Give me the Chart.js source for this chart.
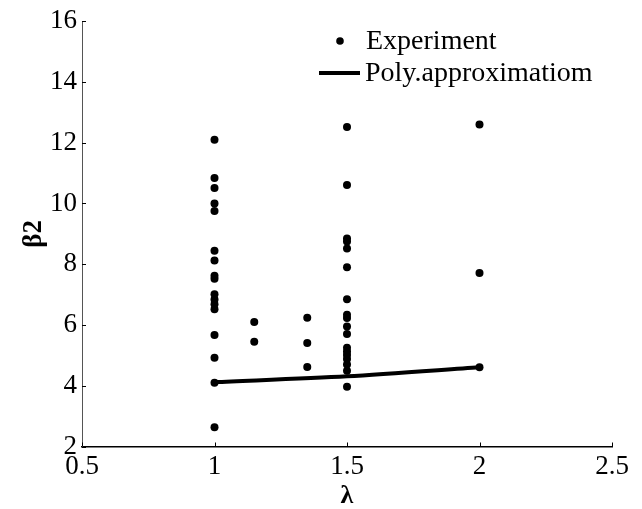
<!DOCTYPE html>
<html>
<head>
<meta charset="utf-8">
<script src="https://cdn.jsdelivr.net/npm/chart.js@4.4.0/dist/chart.umd.min.js"></script>
<style>
  html, body { margin: 0; padding: 0; background: #fff; }
  #wrap { width: 642px; height: 509px; }
</style>
</head>
<body>
<div id="wrap"><canvas id="chart" width="642" height="509"></canvas></div>
<script>
// experiment points (lambda, beta2)
const expLambda = [
  1, 1, 1, 1, 1, 1, 1, 1, 1, 1, 1, 1, 1, 1, 1, 1, 1,
  1.15, 1.15,
  1.35, 1.35, 1.35,
  1.5, 1.5, 1.5, 1.5, 1.5, 1.5, 1.5, 1.5, 1.5, 1.5, 1.5, 1.5, 1.5, 1.5, 1.5, 1.5, 1.5, 1.5,
  2, 2, 2
];
const expBeta = [
  12.1, 10.84, 10.51, 10.0, 9.75, 8.44, 8.12, 7.62, 7.52, 7.01, 6.84, 6.68, 6.52, 5.67, 4.92, 4.1, 2.63,
  6.1, 5.45,
  6.24, 5.41, 4.62,
  12.52, 10.61, 8.85, 8.75, 8.52, 7.9, 6.85, 6.34, 6.23, 5.95, 5.7, 5.25, 5.13, 5.01, 4.88, 4.7, 4.49, 3.97,
  12.6, 7.71, 4.61
];

// polynomial approximation
const polyLambda = [1, 1.5, 2];
const polyBeta = [4.12, 4.31, 4.61];

const xTicks = [0.5, 1, 1.5, 2, 2.5];
const xTickLabels = ["0.5", "1", "1.5", "2", "2.5"];
const yTicks = [2, 4, 6, 8, 10, 12, 14, 16];

const serif = "'Liberation Serif', 'Times New Roman', serif";

// inward tick marks like the original plot
const innerTicks = {
  id: "innerTicks",
  afterDraw(chart) {
    const { ctx, scales } = chart;
    const x = scales.x, y = scales.y;
    ctx.save();
    ctx.strokeStyle = "#000";
    ctx.lineWidth = 1;
    ctx.beginPath();
    xTicks.forEach((v) => {
      const px = Math.round(x.getPixelForValue(v)) + 0.5;
      ctx.moveTo(px, y.bottom);
      ctx.lineTo(px, y.bottom - 4);
    });
    yTicks.forEach((v) => {
      const py = Math.round(y.getPixelForValue(v)) + 0.5;
      ctx.moveTo(x.left, py);
      ctx.lineTo(x.left + 4, py);
    });
    ctx.stroke();
    ctx.restore();
  },
};

// legend drawn inside the plot, top right
const insideLegend = {
  id: "insideLegend",
  afterDraw(chart) {
    const ctx = chart.ctx;
    const ds = chart.data.datasets;
    ctx.save();
    ctx.fillStyle = "#000";
    ctx.strokeStyle = "#000";
    ctx.font = "28px " + serif;
    ctx.textBaseline = "middle";
    ctx.textAlign = "left";

    ctx.beginPath();
    ctx.arc(340, 41, 3.8, 0, Math.PI * 2);
    ctx.fill();
    ctx.fillText(ds[0].label, 366, 42);

    ctx.lineWidth = 4;
    ctx.beginPath();
    ctx.moveTo(319, 73);
    ctx.lineTo(360, 73);
    ctx.stroke();
    ctx.fillText(ds[1].label, 365, 74);
    ctx.restore();
  },
};

new Chart(document.getElementById("chart"), {
  type: "scatter",
  data: {
    datasets: [
      {
        label: "Experiment",
        data: expLambda.map((v, i) => ({ x: v, y: expBeta[i] })),
        pointRadius: 4,
        pointBackgroundColor: "#000",
        pointBorderWidth: 0,
        showLine: false,
      },
      {
        label: "Poly.approximatiom",
        data: polyLambda.map((v, i) => ({ x: v, y: polyBeta[i] })),
        showLine: true,
        borderColor: "#000",
        borderWidth: 4,
        pointRadius: 0,
        tension: 0.3,
      },
    ],
  },
  options: {
    responsive: false,
    animation: false,
    layout: { padding: { top: 19, right: 30, left: 0, bottom: 0 } },
    plugins: { legend: { display: false }, tooltip: { enabled: false } },
    scales: {
      x: {
        type: "linear",
        min: 0.5,
        max: 2.5,
        afterBuildTicks: (s) => { s.ticks = xTicks.map((v) => ({ value: v })); },
        afterFit: (s) => { s.height = 62.5; },
        grid: { display: false, drawTicks: false },
        border: { display: true, color: "#000", width: 1.5 },
        ticks: {
          color: "#000",
          padding: 4,
          font: { family: serif, size: 27 },
          maxRotation: 0,
          callback: (v, i) => xTickLabels[i],
        },
        title: {
          display: true,
          text: "λ",
          color: "#000",
          padding: { top: 0, bottom: 0 },
          font: { family: serif, size: 26, weight: "bold", lineHeight: 1 },
        },
      },
      y: {
        type: "linear",
        min: 2,
        max: 16,
        afterBuildTicks: (s) => { s.ticks = yTicks.map((v) => ({ value: v })); },
        afterFit: (s) => { s.width = 82; },
        grid: { display: false, drawTicks: false },
        border: { display: true, color: "#555", width: 1 },
        ticks: { color: "#000", padding: 5, font: { family: serif, size: 27 } },
        title: {
          display: true,
          text: "β2",
          color: "#000",
          padding: { top: 18, bottom: 0 },
          font: { family: serif, size: 27, weight: "bold" },
        },
      },
    },
  },
  plugins: [innerTicks, insideLegend],
});
</script>
</body>
</html>
